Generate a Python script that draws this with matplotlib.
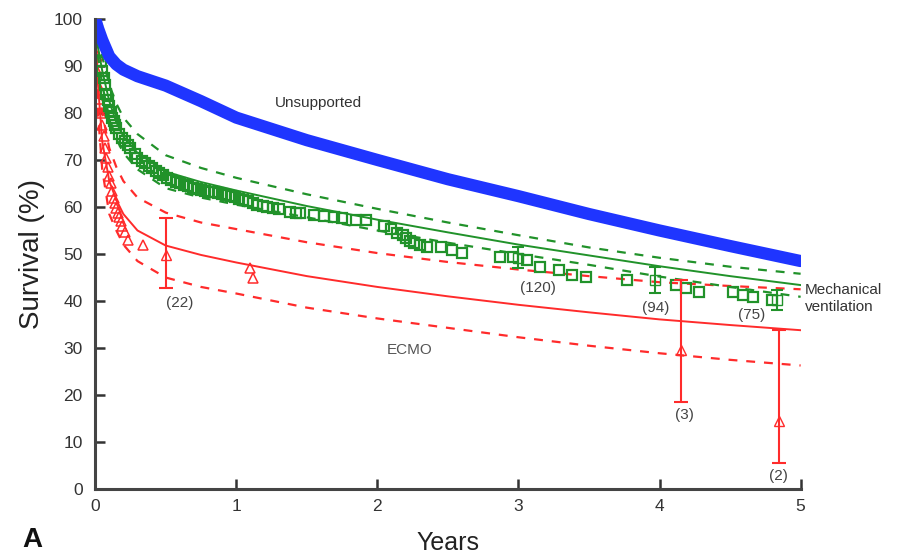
import numpy as np
import matplotlib.pyplot as plt

plt.rcParams['font.family'] = ['Liberation Sans', 'DejaVu Sans']

# model curves (years, survival %)
yrs = [0, 0.02, 0.05, 0.1, 0.15, 0.2, 0.3, 0.5, 0.75, 1.0, 1.5, 2.0, 2.5, 3.0, 3.5, 4.0, 4.5, 5.0]
unsup = [100, 98, 95.5, 92, 90.3, 89.2, 87.8, 85.8, 82.5, 79, 74.2, 70, 65.9, 62.3, 58.5, 55, 51.7, 48.5]
mv_fit = [100, 94, 89, 82.5, 78, 75, 71.5, 67.5, 65.3, 63.5, 60.2, 57.3, 54.6, 52, 49.7, 47.4, 45.3, 43.4]
mv_hi = [100, 96, 92, 86, 82, 79, 75.5, 71, 68.3, 66.2, 62.7, 59.6, 56.7, 54, 51.4, 49.2, 47.3, 45.8]
mv_lo = [100, 92, 86, 79, 74.5, 71.5, 68, 64, 62, 60.5, 57.8, 55, 52.4, 50, 47.7, 45.2, 43, 40.9]
ecmo_fit = [100, 86, 74, 65.5, 61.5, 58.5, 55, 51.8, 49.8, 48.2, 45.3, 43, 41, 39.2, 37.6, 36.1, 34.9, 33.8]
ecmo_hi = [100, 90, 80, 72.5, 68.5, 65.5, 62, 58.8, 56.7, 55.3, 52.5, 50.2, 48.3, 46.7, 45.3, 44, 43.2, 42.5]
ecmo_lo = [100, 80, 68, 58.5, 55, 52, 48.5, 45, 43, 41.6, 38.6, 36.3, 34.3, 32.3, 30.5, 28.9, 27.5, 26.3]

# Kaplan-Meier points, mechanical ventilation (squares)
mv_km_t = [0, 0.01, 0.02, 0.03, 0.04, 0.05, 0.06, 0.07, 0.08, 0.09, 0.1, 0.11, 0.12, 0.13, 0.14,
           0.15, 0.17, 0.19, 0.21, 0.23, 0.25, 0.28, 0.3, 0.33, 0.35, 0.38, 0.4, 0.43, 0.45, 0.48,
           0.51, 0.54, 0.57, 0.6, 0.63, 0.66, 0.69, 0.72, 0.75, 0.78, 0.81, 0.84, 0.87, 0.9,
           0.93, 0.96, 0.99, 1.02, 1.05, 1.08, 1.12, 1.15, 1.19, 1.22, 1.26, 1.3, 1.38, 1.42,
           1.45, 1.55, 1.62, 1.69, 1.75, 1.85, 1.92, 2.05, 2.1, 2.14, 2.18, 2.2, 2.23, 2.26,
           2.3, 2.35, 2.45, 2.53, 2.6, 2.87, 2.96, 3.06, 3.15, 3.29, 3.38, 3.48, 3.77, 4.12,
           4.19, 4.28, 4.52, 4.59, 4.66, 4.80]
mv_km_s = [100, 97.5, 95, 93, 91, 89, 87.5, 86, 84, 82.8, 81.5, 80.2, 79, 78.2, 77.5,
           76.8, 75.5, 74.7, 74, 73.2, 72.5, 71.3, 70.5, 69.8, 69.3, 68.8, 68.3, 67.7, 67.2, 66.7,
           66.2, 65.8, 65.4, 65, 64.7, 64.4, 64.1, 63.8, 63.6, 63.4, 63.2, 63.1, 63, 62.8,
           62.5, 62.3, 62.1, 61.8, 61.5, 61.2, 60.8, 60.5, 60.2, 60, 59.8, 59.5, 59, 58.8,
           58.7, 58.3, 58, 57.9, 57.6, 57.2, 57.2, 56, 55.3, 54.5, 54, 53.4, 52.8, 52.4,
           52, 51.5, 51.4, 50.9, 50.2, 49.4, 49.4, 48.7, 47.2, 46.6, 45.5, 45.1, 44.5, 43.4,
           42.8, 41.9, 41.9, 41.3, 40.9, 40.2]

# Kaplan-Meier points, ECMO (triangles)
ecmo_km_t = [0, 0.005, 0.01, 0.015, 0.02, 0.03, 0.04, 0.05, 0.06, 0.07, 0.08, 0.09, 0.1, 0.11,
             0.12, 0.13, 0.14, 0.15, 0.16, 0.17, 0.18, 0.19, 0.21, 0.23, 0.34, 1.1, 1.12]
ecmo_km_s = [100, 96, 92, 89, 86, 83, 80, 77.5, 75, 72.5, 70.5, 68.5, 66.5, 65,
             63.5, 62, 60.8, 59.8, 58.8, 57.8, 57, 56, 54.7, 53, 51.9, 47, 45]

# error bars: time, estimate, low, high, sample size
mv_eb_t = [3.0, 3.97, 4.83]
mv_eb_s = [49.2, 44.5, 40.2]
mv_eb_lo = [47.0, 41.7, 38.1]
mv_eb_hi = [51.5, 47.2, 42.3]
mv_eb_n = ['(120)', '(94)', '(75)']

ecmo_eb_t = [0.5, 4.15, 4.85]
ecmo_eb_s = [49.8, 29.5, 14.5]
ecmo_eb_lo = [42.8, 18.5, 5.5]
ecmo_eb_hi = [57.7, 44.5, 33.8]
ecmo_eb_n = ['(22)', '(3)', '(2)']

blue = '#1f35ff'
green = '#21922a'
red = '#ff2b2b'

fig = plt.figure(figsize=(9.15, 5.54), dpi=100)
ax = fig.add_axes([0.104, 0.117, 0.771, 0.849])

ax.plot(yrs, ecmo_hi, '--', color=red, lw=1.6, dashes=(4, 4))
ax.plot(yrs, ecmo_lo, '--', color=red, lw=1.6, dashes=(4, 4))
ax.plot(yrs, ecmo_fit, '-', color=red, lw=1.4)
ax.plot(ecmo_km_t, ecmo_km_s, '^', color=red, mfc='none', ms=7, mew=1.1, ls='none')

ax.plot(yrs, mv_hi, '--', color=green, lw=1.6, dashes=(4, 4))
ax.plot(yrs, mv_lo, '--', color=green, lw=1.6, dashes=(4, 4))
ax.plot(yrs, mv_fit, '-', color=green, lw=1.4)
ax.plot(mv_km_t, mv_km_s, 's', color=green, mfc='none', ms=7, mew=1.6, ls='none')

ax.errorbar(ecmo_eb_t, ecmo_eb_s,
            yerr=[np.array(ecmo_eb_s) - np.array(ecmo_eb_lo), np.array(ecmo_eb_hi) - np.array(ecmo_eb_s)],
            fmt='^', color=red, mfc='none', ms=6.5, elinewidth=1.5, capsize=5, capthick=1.5)
ax.errorbar(mv_eb_t, mv_eb_s,
            yerr=[np.array(mv_eb_s) - np.array(mv_eb_lo), np.array(mv_eb_hi) - np.array(mv_eb_s)],
            fmt='s', color=green, mfc='none', ms=6.5, elinewidth=1.5, capsize=4, capthick=1.5)

ax.plot(yrs, unsup, '-', color=blue, lw=8.8, solid_capstyle='round')

# sample size labels
lab_pos = {'(22)': (0.6, 39.6), '(120)': (3.14, 42.8), '(94)': (3.97, 38.5),
           '(75)': (4.65, 37), '(3)': (4.18, 15.7), '(2)': (4.84, 2.8)}
for n in mv_eb_n + ecmo_eb_n:
    ax.text(lab_pos[n][0], lab_pos[n][1], n, fontsize=11, color='#444444', ha='center', va='center')

ax.text(1.58, 82.1, 'Unsupported', fontsize=11, color='#333333', ha='center', va='center')
ax.text(2.23, 29.6, 'ECMO', fontsize=11, color='#555555', ha='center', va='center')
ax.text(5.03, 40.6, 'Mechanical\nventilation', fontsize=11, color='#333333',
        ha='left', va='center', linespacing=1.25, clip_on=False)

ax.set_xlim(0, 5)
ax.set_ylim(0, 100)
ax.set_xticks(range(0, 6))
ax.set_yticks(range(0, 101, 10))
for s in ['top', 'right']:
    ax.spines[s].set_visible(False)
for s in ['left', 'bottom']:
    ax.spines[s].set_linewidth(2.2)
    ax.spines[s].set_color('#444444')
ax.tick_params(direction='in', length=7, width=1.8, color='#333333', labelsize=12.5,
               labelcolor='#333333')
ax.tick_params(axis='y', pad=9)
ax.tick_params(axis='x', pad=7)

ax.set_xlabel('Years', fontsize=18, color='#222222', labelpad=12)
ax.set_ylabel('Survival (%)', fontsize=20, color='#222222', labelpad=6)
fig.text(0.024, 0.012, 'A', fontsize=20, fontweight='bold', color='#111111')

fig.savefig('out.png', dpi=100)
